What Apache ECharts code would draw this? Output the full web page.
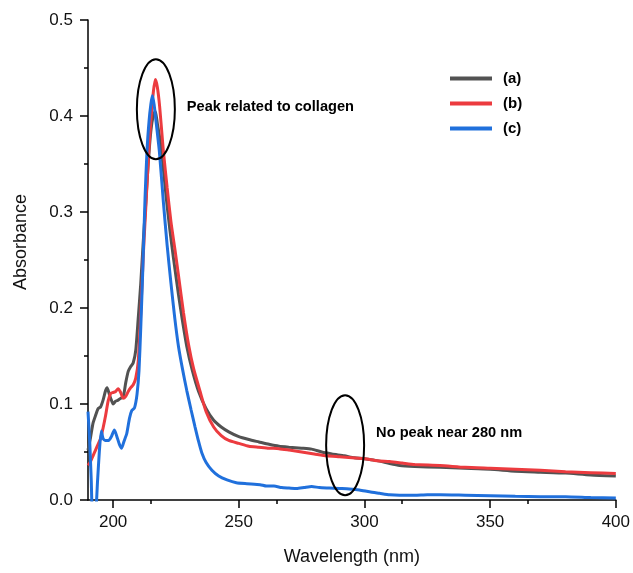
<!DOCTYPE html>
<html>
<head>
<meta charset="utf-8">
<script src="https://cdn.jsdelivr.net/npm/echarts@6/dist/echarts.min.js"></script>
<style>
html,body{margin:0;padding:0;background:#fff;}
#chart{width:633px;height:573px;}
</style>
</head>
<body>
<div id="chart"></div>
<script>
// ---- Data ----
var seriesNames = ['(a)', '(b)', '(c)'];
var xTicks = [200, 250, 300, 350, 400];
var yTicks = [0.0, 0.1, 0.2, 0.3, 0.4, 0.5];

var waveA = [190,191,192,193,194,195,196,197,197.6,198.5,199.3,200,201,202,203,204,205,206,207,208,209,210,211,212,213,214,215,216,216.8,217.6,218.5,219.4,221,222.5,224,226,227.5,229.3,231.5,234,237,240,243,246,250,254,258,262,266,270,275,279,283,287,292,296,300,305,310,314,320,330,340,350,360,370,380,390,400];
var absA  = [0.052,0.065,0.080,0.088,0.095,0.097,0.104,0.114,0.117,0.110,0.104,0.100,0.103,0.104,0.106,0.107,0.122,0.134,0.139,0.143,0.156,0.190,0.226,0.270,0.310,0.352,0.384,0.401,0.405,0.392,0.378,0.360,0.318,0.283,0.252,0.214,0.188,0.160,0.135,0.113,0.095,0.083,0.076,0.071,0.066,0.063,0.0605,0.058,0.056,0.055,0.054,0.053,0.050,0.048,0.046,0.044,0.043,0.041,0.038,0.036,0.035,0.034,0.033,0.032,0.030,0.029,0.028,0.026,0.025];

var waveB = [190,191,192,193,194,195,196,197,198,199,200,201,202,203,204,205,206,207,208,209,210,211,212,213,214,215,216,216.8,217.6,218.5,220,221.5,223,224.7,226,228,230,232,234.6,237,240,243,246,250,254,258,262,266,270,275,280,285,290,295,300,305,310,315,320,330,340,350,360,370,380,390,400];
var absB  = [0.036,0.040,0.046,0.052,0.058,0.064,0.075,0.088,0.103,0.111,0.112,0.113,0.116,0.112,0.106,0.108,0.113,0.117,0.120,0.127,0.145,0.195,0.255,0.305,0.355,0.395,0.425,0.438,0.430,0.410,0.363,0.325,0.290,0.259,0.234,0.195,0.162,0.137,0.113,0.092,0.076,0.067,0.062,0.059,0.056,0.055,0.054,0.0535,0.052,0.050,0.048,0.046,0.045,0.044,0.043,0.041,0.040,0.0385,0.037,0.036,0.034,0.033,0.032,0.031,0.0295,0.0285,0.0275];

var waveC = [190,190.7,191.3,191.8,193,193.8,194.5,195.3,196,197,198.2,199.3,200.5,201.5,202.5,203.4,204.3,205.4,206.5,207.4,208.5,209.5,210.3,211,211.8,212.7,213.5,214.3,215,215.6,216.3,217,218.4,220,221.5,223,224.5,226,227.7,229.3,231,232.6,234,235.3,237,239.3,242,245.3,249,253.2,258.5,261,264,267,270,273,276,279,282,286,290,294,298,302,306,310,314,320,325,330,340,350,360,370,380,390,400];
var absC  = [0.092,0.060,0.020,-0.010,-0.010,0.020,0.050,0.072,0.064,0.062,0.062,0.066,0.073,0.066,0.058,0.054,0.061,0.069,0.085,0.093,0.096,0.110,0.135,0.180,0.240,0.315,0.365,0.395,0.412,0.421,0.412,0.396,0.363,0.310,0.265,0.226,0.190,0.160,0.135,0.114,0.094,0.076,0.061,0.049,0.039,0.031,0.025,0.021,0.018,0.017,0.016,0.0145,0.0145,0.013,0.0125,0.012,0.013,0.014,0.013,0.0125,0.012,0.0115,0.0105,0.0085,0.007,0.0055,0.005,0.005,0.0055,0.0055,0.005,0.0045,0.0038,0.0035,0.0035,0.0025,0.002];

// annotations: [wavelength, absorbance] anchors
var annoPeakCenter = [217.0, 0.407];
var annoPeakText = 'Peak related to collagen';
var annoNoPeakCenter = [292.3, 0.057];
var annoNoPeakText = 'No peak near 280 nm';

function pairs(xs, ys){ return xs.map(function(x,i){ return [x, ys[i]]; }); }

var colors = ['#525252', '#ec3b3f', '#2070dc'];
var FONT = 'Liberation Sans, Arial, sans-serif';

var chart = echarts.init(document.getElementById('chart'));
var option = {
  animation: false,
  backgroundColor: '#ffffff',
  grid: {left: 88, right: 17, top: 20, bottom: 73, containLabel: false},
  legend: {
    orient: 'vertical',
    left: 445, top: 66,
    itemWidth: 42, itemHeight: 4,
    itemGap: 10,
    icon: 'rect',
    data: seriesNames,
    textStyle: {fontFamily: FONT, fontWeight: 'bold', fontSize: 15, color: '#000', padding: [0,0,0,6]}
  },
  xAxis: {
    type: 'value', min: 190, max: 400, interval: 50,
    name: 'Wavelength (nm)', nameLocation: 'middle', nameGap: 48,
    nameTextStyle: {fontFamily: FONT, fontSize: 18, color: '#111'},
    axisLine: {show: true, onZero: false, lineStyle: {color: '#000', width: 1.5}},
    axisTick: {show: true, inside: false, length: 8, lineStyle: {color: '#000', width: 1.5}, customValues: xTicks},
    minorTick: {show: true, splitNumber: 2, length: 4, lineStyle: {color: '#000', width: 1.5}},
    axisLabel: {fontFamily: FONT, fontSize: 17, color: '#111', margin: 14, customValues: xTicks,
      formatter: function(v){ return xTicks.indexOf(v) >= 0 ? String(v) : ''; }},
    splitLine: {show: false}
  },
  yAxis: {
    type: 'value', min: 0, max: 0.5, interval: 0.1,
    name: 'Absorbance', nameLocation: 'middle', nameGap: 58,
    nameTextStyle: {fontFamily: FONT, fontSize: 18, color: '#111', padding: [0,0,0,36]},
    axisLine: {show: true, lineStyle: {color: '#000', width: 1.5}},
    axisTick: {show: true, inside: false, length: 8, lineStyle: {color: '#000', width: 1.5}},
    minorTick: {show: true, splitNumber: 2, length: 4, lineStyle: {color: '#000', width: 1.5}},
    axisLabel: {fontFamily: FONT, fontSize: 17, color: '#111', margin: 15,
      formatter: function(v){ return v.toFixed(1); }},
    splitLine: {show: false}
  },
  series: [
    {name: seriesNames[0], type: 'line', data: pairs(waveA, absA), showSymbol: false, symbol: 'none', smooth: 0.2, clip: true,
     lineStyle: {color: colors[0], width: 3}, itemStyle: {color: colors[0]}},
    {name: seriesNames[1], type: 'line', data: pairs(waveB, absB), showSymbol: false, symbol: 'none', smooth: 0.2, clip: true,
     lineStyle: {color: colors[1], width: 3}, itemStyle: {color: colors[1]}},
    {name: seriesNames[2], type: 'line', data: pairs(waveC, absC), showSymbol: false, symbol: 'none', smooth: 0.2, clip: true,
     lineStyle: {color: colors[2], width: 3}, itemStyle: {color: colors[2]}}
  ]
};
chart.setOption(option);

function px(p){ return chart.convertToPixel({gridIndex: 0}, p); }
var c1 = px(annoPeakCenter);
var c2 = px(annoNoPeakCenter);
chart.setOption({
  graphic: [
    {type: 'ellipse', shape: {cx: c1[0], cy: c1[1], rx: 19, ry: 50}, style: {fill: 'none', stroke: '#000', lineWidth: 2}, z: 100},
    {type: 'text', x: c1[0] + 31, y: c1[1] - 2, style: {text: annoPeakText, font: 'bold 14.6px ' + FONT, fill: '#000', verticalAlign: 'middle'}, z: 100},
    {type: 'ellipse', shape: {cx: c2[0], cy: c2[1], rx: 19, ry: 50}, style: {fill: 'none', stroke: '#000', lineWidth: 2}, z: 100},
    {type: 'text', x: c2[0] + 31, y: c2[1] - 12, style: {text: annoNoPeakText, font: 'bold 14.6px ' + FONT, fill: '#000', verticalAlign: 'middle'}, z: 100}
  ]
});
</script>
</body>
</html>
